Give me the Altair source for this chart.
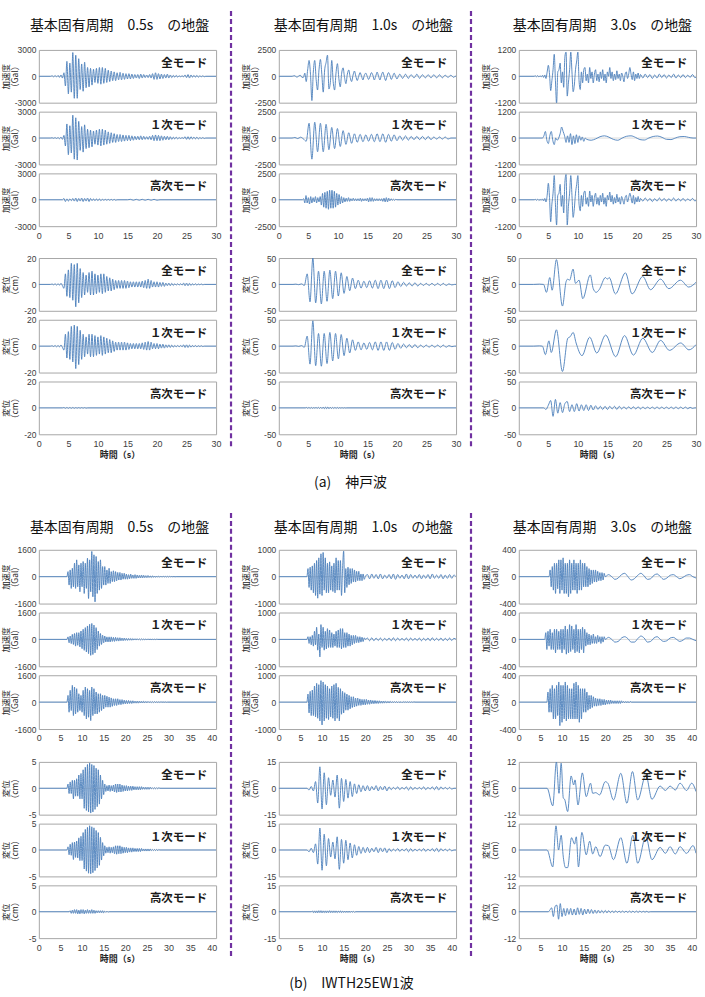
import altair as alt
import pandas as pd

# ---------------- labels / axes ----------------
COL_TITLES = ["基本固有周期　0.5s　の地盤", "基本固有周期　1.0s　の地盤", "基本固有周期　3.0s　の地盤"]
MODE_LABELS = ["全モード", "１次モード", "高次モード"]
ACC_TITLE = ["加速度", "（Gal）"]
DIS_TITLE = ["変位", "（cm）"]
TIME_TITLE = "時間（s）"
CAPTIONS = ["(a)　神戸波", "(b)　IWTH25EW1波"]
XT_A = [0, 5, 10, 15, 20, 25, 30]
XT_B = [0, 5, 10, 15, 20, 25, 30, 35, 40]
XMAX_A = 30
XMAX_B = 41
ACC_MAX_A = [3000, 2500, 1200]
DIS_MAX_A = [20, 50, 50]
ACC_MAX_B = [1600, 1000, 400]
DIS_MAX_B = [5, 15, 12]

# ---------------- (a) Kobe wave : segments (t0, dt, values) ----------------
KOBE_ACC05_ALL = [(2.0, 0.25, [0, 60, -60, 80, -70, 100, -120, 150, -200,
    400, -1100, 1700, -2000, 1500, -1800, 2700, -2500, 2400, -2500, 2000, -1500, 1400, -1700, 1600, -1300,
    1000, -1200, 900, -1000, 800, -700, 900, -800, 1000, -900, 1000, -800, 900, -700, 700, -600,
    600, -500, 500, -500, 400, -400, 450, -400, 350, -350, 300, -300, 300, -300, 250, -250,
    200, -200, 200, -250, 250, -200, 200, -150, 150, -150, 200, -200, 300, -350, 400, -350,
    300, -300, 250, -250, 200, -200, 250, -200, 150, -150, 100, -100, 100, -100, 50, -50,
    50, -50, 150, -150, 200, -200, 150, -100, 100, -100, 100, -100, 50, -50, 50, -50, 0])]
KOBE_ACC05_1ST = [(2.0, 0.25, [0, 30, -30, 50, -50, 60, -80, 100, -150,
    300, -900, 1600, -1900, 1400, -1700, 2600, -2400, 2300, -2500, 1900, -1400, 1300, -1600, 1500, -1200,
    1000, -1100, 900, -1000, 800, -700, 900, -800, 1000, -900, 1000, -800, 900, -700, 700, -600,
    600, -500, 500, -500, 400, -400, 400, -400, 350, -350, 300, -300, 300, -300, 250, -250,
    200, -200, 200, -200, 250, -200, 200, -150, 150, -150, 200, -200, 300, -300, 350, -300,
    300, -300, 250, -250, 200, -200, 200, -200, 150, -150, 100, -100, 100, -100, 50, -50,
    50, -50, 150, -150, 150, -150, 150, -100, 100, -100, 100, -100, 50, -50, 50, -50, 0])]
KOBE_ACC05_HI = [(4.0, 0.25, [0, 150, -200, 100, -150, 100, -100, 150, -150, 200, -200, 150, -150, 200, -200,
    150, -150, 200, -200, 150, -100, 100, -100, 100, -100, 100, -100, 50, -50, 50, -50, 50, -50, 50, -50, 50, -50, 0]),
    (15.0, 0.5, [0, 50, -50, 50, -50, 50, -50, 50, -50, 50, -50, 0])]
KOBE_DIS05_ALL = [(2.0, 0.25, [0, 0.3, -0.3, 0.5, -0.5, 0.5, -0.5, 0.8, -1,
    -3, 8, -9, 11, -10, 16, -12, 15, -17, 16, -14, 12, -10, 9, -8, 7,
    -6, 9, -8, 10, -8, 8, -7, 7, -6, 8, -7, 8, -6, 6, -5, 5,
    -5, 4, -4, 3, -3, 3, -3, 3, -3, 3, -3, 2.5, -2.5, 2, -2,
    2, -2, 2, -2, 2, -2, 2.5, -2.5, 3, -3, 4, -3, 3, -2, 2, -2,
    2, -2, 1.5, -1.5, 1.5, -1.5, 1, -1, 1, -1, 0.8, -0.8, 0.5, -0.5, 0.5, -0.5,
    0.5, -0.5, 1, -1, 1, -1, 0.8, -0.8, 0.5, -0.5, 0.5, -0.5, 0.3, -0.3, 0.3, -0.3, 0])]
KOBE_DIS05_1ST = [(2.0, 0.25, [0, 0.3, -0.3, 0.5, -0.5, 0.5, -0.5, 0.8, -1,
    -3, 9, -9, 11, -10, 15, -12, 16, -17, 15, -14, 12, -10, 9, -8, 7,
    -6, 9, -8, 9, -8, 8, -7, 7, -6, 8, -7, 7, -6, 6, -5, 5,
    -5, 4, -4, 3, -3, 3, -3, 3, -3, 3, -3, 2.5, -2.5, 2, -2,
    2, -2, 2, -2, 2, -2, 2.5, -2.5, 3, -3, 3.5, -3, 3, -2, 2, -2,
    2, -2, 1.5, -1.5, 1.5, -1.5, 1, -1, 1, -1, 0.8, -0.8, 0.5, -0.5, 0.5, -0.5,
    0.5, -0.5, 1, -1, 1, -1, 0.8, -0.8, 0.5, -0.5, 0.5, -0.5, 0.3, -0.3, 0.3, -0.3, 0])]
KOBE_DIS05_HI = [(4.0, 0.25, [0, 0.3, -0.3, 0.3, -0.3, 0.3, -0.3, 0.3, -0.3, 0.2, -0.2, 0.2, -0.2, 0.2, -0.2, 0.2, -0.2, 0])]

KOBE_ACC10_ALL = [(2.24, 0.24, [0, 40, 50, -60, -50, 60, 80, -100, -100, 300, -500, 600, 1500, 200, -2300, 400,
    1500, -300, -1300, 600, 1600, 200, -1500, 600, 1300, 2000, -1200, -600, 1500, -500, -1300, 300, 1200, -200,
    -1000, 300, 800, -100, -700, 200, 600, -100, -500, 100, 500, 0, -400,
    0, 350, 0, -350, 100, 300, 0, -300, 0, 350, 100, -350, 0, 400, 0, -350, 100, 400, 0, -400, 0, 350, 100, -300, 0, 300, 0, -250,
    0, 200, 0, -200, 0, 200, 0, -200, 0, 150, 0, -150, 0, 200, 0, -200, 0, 150, 0, -150, 0, 150, 0, -150, 0, 150, 0, -150,
    0, 150, 0, -150, 0, 100, 0, -100, 0, 100, 0, -100, 0])]
KOBE_ACC10_1ST = [(2.24, 0.48, [0, 50, -50, 80, -80, -300,
    1400, -2000, 1500, -1300, 1400, -1300, 1300, -1100, 1000, -1000, 900, -800, 700, -600, 500, -500, 400, -400,
    350, -350, 300, -300, 350, -350, 400, -350, 400, -400, 350, -300, 300, -250,
    200, -200, 200, -200, 150, -150, 150, -150, 150, -150, 150, -150, 100, -100, 100, -100, 100, -100, 0])]
KOBE_ACC10_HI = [(4.0, 0.2, [0, 100, -300, 400, -300, 200, -400, 300, -300, 200, -200,
    300, -300, 200, -200, 300, -500, 600, -700, 700, -800, 800, -900, 900, -800, 900,
    -800, 800, -700, 600, -500, 500, -400, 300, -300, 200,
    -200, 150, -150, 200, -150, 100, -100, 150, -100, 100, -100, 100, -100, 150, -150, 100, -100, 100, -100, 150,
    -200, 200, -150, 200, -150, 100, -100, 100, -100, 100,
    -100, 100, -150, 150, -200, 200, -200, 150, -100, 100, -50, 50, -50, 50, 0])]
KOBE_DIS10_ALL = [(2.4, 0.48, [0, 0.5, -0.5, 1, -2, 20, -33, 50, -35, 25, -37, 25, -32, 27, -27, 25, -22, 22,
    -17, 15, -12, 12, -8, 8, -7, 6, -6, 7, -7, 8, -8, 8, -8, 8, -8, 7, -6, 5, -4, 4, -3, 3, -3, 3, -3,
    2, -2, 2, -2, 2, -2, 2, -2, 2, -2, 1, -1, 0])]
KOBE_DIS10_1ST = [(2.4, 0.48, [0, 0.5, -0.5, 1, -2, 19, -34, 48, -37, 24, -38, 24, -33, 26, -28, 24, -24, 22,
    -18, 15, -13, 12, -8, 8, -7, 6, -6, 7, -7, 8, -8, 8, -8, 8, -8, 7, -6, 5, -4, 4, -3, 3, -3, 3, -3,
    2, -2, 2, -2, 2, -2, 2, -2, 2, -2, 1, -1, 0])]
KOBE_DIS10_HI = [(4.5, 0.2, [0, 0.8, -0.8, 1, -1, 0.8, -0.8, 0.5, -0.5, 0.8, -0.8, 1, -1, 1.2, -1.2, 1.5, -1.5,
    1.5, -1.5, 1.5, -1.5, 1.2, -1.2, 1, -1, 1, -1, 0.8, -0.8, 0.5, -0.5, 0.5, -0.5, 0.3, -0.3, 0])]

KOBE_ACC30_ALL = [(2.6, 0.2, [0, 20, -20, 30, -30, 20, -20, 40, -50, 60,
    -100, 200, 500, 100, -650, -200, 300, 1000, -200, -1250,
    200, 300, 600, -300, 200, -500, 900, 1100, -900, -300,
    300, 1100, 200, -700, -400, 300, 700, 1100, -200, -600,
    200, -300, 300, 400, -200, 100, -300, 400, -100, 200,
    -300, 100, 300, -200, 100, -250, 200, -100, 300, -200,
    100, -300, 200, 0, 400, -100, 200, -200, 100, -150,
    250, -100, 100, -200, 150, 0, -250, 100, 200, -100,
    100, 400, 100, -150, 200, -200, 100, -100, 150, -100]),
    (20.6, 0.4, [80, -80, 100, -60, 80, -100, 60, -80, 100, -60, 80, -80, 60, -60, 100, -80, 60, -60, 80, -60,
    50, -50, 80, -60, 0])]
KOBE_ACC30_1ST = [(4.0, 0.25, [0, 100, 300, -100, -250, 100, 300, -100, -300, 0, -100, 0, 200, 500, 300, 100,
    -200, 100, -200, 200, -300, 100, -250, 150, -200, 100, -100, 50, -150, 0]),
    (11.5, 0.75, [-60, -100, -40, 60, 100, 40, -60, -100, 0, 80, 100, 30, -70, -90, 0, 70, 90, 30,
    -60, -70, 0, 60, 70, 30, 0])]
KOBE_ACC30_HI = [(2.6, 0.2, [0, 20, -20, 30, -30, 20, -20, 40, -50, 60,
    -100, 200, 750, 100, -1000, -200, 300, 1100, -200, -1150,
    200, 300, 700, -300, 200, -600, 800, 1150, -1150, -300,
    300, 1100, 200, -800, -400, 300, 700, 1100, -200, -500,
    200, -300, 300, 400, -200, 100, -300, 400, -100, 200,
    -300, 100, 300, -200, 100, -250, 200, -100, 300, -200,
    100, -300, 200, 0, 350, -100, 200, -200, 100, -150,
    250, -100, 100, -200, 150, 0, -200, 100, 200, -100,
    100, 300, 100, -150, 200, -200, 100, -100, 150, -100]),
    (20.6, 0.4, [60, -60, 80, -50, 60, -80, 50, -60, 80, -50, 60, -60, 50, -50, 80, -60, 50, -50, 60, -50,
    40, -40, 60, -50, 0])]
KOBE_DIS30_ALL = {"t": [0, 2.5, 3.5, 4.2, 4.68, 5.25, 5.64, 6.37, 7.39, 8.0, 8.29, 8.6, 9.19, 9.6, 10.2, 10.83,
                        12.1, 12.6, 13.1, 13.6, 14.67, 15.0, 15.3, 16.36, 18.05, 19.18, 20.98, 22.3, 24.0, 25.4,
                        27.36, 28.76, 30],
                  "v": [0, 0, 0.5, 0, -15, 13, -11, 47, -41, 5, 10, 8, 29, 2, 8, -27, 18, -8, -15, -10, 13, 10, 13,
                        -18, 22, -18, 15, -10, 10, -8, 8, -5, 4]}
KOBE_DIS30_1ST = {"t": [0, 2.5, 3.5, 4.0, 4.5, 5.1, 5.5, 6.37, 7.39, 8.3, 8.7, 9.2, 9.7, 10.7, 12.0, 13.2, 14.7,
                        16.4, 17.9, 19.4, 21.0, 22.6, 24.0, 25.5, 27.4, 28.8, 30],
                  "v": [0, 0, 0.5, 0, -16, 10, -12, 31, -48, 15, 18, 26, 6, -18, 17, -13, 21, -20, 20, -17, 15,
                        -12, 11, -8, 6, -7, 3]}
KOBE_DIS30_HI = [(4.2, 0.4, [0, -3, 5, 14, -16, 16, -10, 10, -9, 8, 12, -7, 6, -7, 8, -6, 6, -5, 6, -5, 5, -4, 4,
    -3, 3, -3, 3, -3, 3, -2, 3, -3, 3, -2, 2, -2, 2, -2, 2, -2, 2, -2, 1.5, -1.5, 1.5, -1.5, 1.5, -1.5,
    1.5, -1.5, 1.5, -1.5, 1.5, -1.5, 1.5, -1.5, 1.5, -1.5, 1.5, -1.5, 1.5, -1.5, 1, -1, 0])]

# ---------------- (b) IWTH25EW1 wave ----------------
IWTH_ACC05_ALL = [(6.5, 0.25, [0, 300, -500, 400, -700, 500,
    -600, 800, -700, 1000, -600, 700, -900, 800,
    -600, 900, -1000, 800, -700, 1100, -1300, 1000,
    -900, 1500, -1200, 1300, -1500, 1200, -1000, 900,
    -800, 1000, -700, 600, -500, 600, -500, 400,
    -400, 500, -400, 300, -300, 350, -300, 300,
    -250, 250, -200, 250, -200, 200, -150, 200,
    -150, 150, -150, 120, -120, 150, -100, 100, -100, 120, -100, 100, -80, 80, -80, 100,
    -80, 80, -60, 60, -60, 70, -50, 50, -50, 50, -40, 40, -40, 40, -30, 30,
    -30, 30, -30, 30, -20, 20, -20, 20, -20, 20, -10, 10, -10, 10, -10, 0])]
IWTH_ACC05_1ST = [(6.5, 0.25, [0, 150, -200, 200, -250, 300,
    -300, 350, -400, 400, -350, 400, -450, 500,
    -550, 600, -650, 700, -750, 800, -850, 900,
    -950, 950, -900, 850, -800, 700, -600, 500,
    -400, 350, -300, 250, -200, 200, -150, 150,
    -150, 150, -150, 150, -120, 120, -120, 120, -100, 100, -100, 100, -80, 80, -80, 80,
    -60, 60, -60, 60, -50, 50, -50, 50, -40, 40, -40, 40, -30, 30, -30, 30,
    -20, 20, -20, 20, -20, 20, -10, 10, -10, 10, -10, 10, -10, 10, 0])]
IWTH_ACC05_HI = [(6.5, 0.25, [0, 400, -600, 700, -500, 1000,
    -800, 900, -700, 800, -600, 500, -500, 400,
    -600, 700, -800, 900, -1000, 800, -900, 700,
    -1100, 900, -800, 800, -700, 600, -700, 500,
    -600, 500, -500, 400, -400, 400, -300, 350,
    -300, 300, -300, 250, -250, 200, -200, 200,
    -200, 200, -150, 150, -150, 150, -120, 120, -100, 100, -100, 100, -80, 80, -80, 80,
    -60, 60, -60, 60, -60, 60, -50, 50, -50, 50, -40, 40, -40, 40, -30, 30,
    -30, 30, -30, 30, -20, 20, -20, 20, -20, 20, -10, 10, -10, 10, -10, 0])]
IWTH_ACC10_ALL = [(6.5, 0.25, [0, 300, -400, 350, -500, 400,
    -600, 500, -700, 600, -800, 700, -650, 850,
    -700, 900, -500, 700, -600, 500, -600, 550,
    -500, 400, -550, 500, -600, 700, -500, 600,
    -500, 600, -700, 300, 950, -600, 300, -400,
    350, -300, 300, -250, 300, -200, 250, -200,
    200, -150, 200, -150, 100, -150, 100, -100, 0]),
    (20.5, 0.5, [80, -80, 100, -60, 80, -80, 100, -80, 60, -60, 80, -80, 100, -100, 80, -60, 60, -80, 100, -80,
    80, -60, 60, -60, 80, -80, 60, -60, 80, -80, 100, -60, 60, -60, 80, -80, 60, -60, 80, -60, 60, 0])]
IWTH_ACC10_1ST = [(6.5, 0.25, [0, 100, -150, 100, -200, 150,
    -250, 300, -200, 450, -400, 200, -650, 550,
    -300, 450, -400, 300, -350, 400, -300, 350,
    -300, 250, -300, 200, -250, 300, -300, 350,
    -300, 400, -350, 400, -300, 250, -300, 250,
    -250, 200, -250, 150, -200, 150, -150, 150,
    -120, 100, -120, 100, -100, 80, -80, 60, 0]),
    (20.5, 0.5, [50, -50, 60, -50, 50, -40, 50, -50, 40, -40, 50, -50, 60, -50, 50, -40, 40, -40, 50, -50,
    50, -40, 40, -40, 50, -50, 40, -40, 50, -50, 60, -40, 40, -40, 50, -50, 40, -40, 50, -40, 40, 0])]
IWTH_ACC10_HI = [(6.5, 0.25, [0, 300, -400, 400, -500, 450,
    -500, 600, -550, 700, -600, 650, -700, 800,
    -850, 750, -700, 650, -600, 600, -650, 500,
    -550, 600, -600, 650, -700, 700, -600, 550,
    -700, 500, -450, 400, -400, 350, -300, 300,
    -300, 250, -250, 200, -200, 200, -180, 150,
    -150, 150, -120, 120, -120, 100, -100, 100,
    -100, 100, -80, 80, -80, 80, -60, 60, -60, 60, -50, 50, -50, 50, -40, 40,
    -40, 40, -30, 30, -30, 30, -30, 30, -20, 20, -20, 20, -20, 20, -20, 20,
    -20, 20, -20, 20, -10, 10, -10, 10, -10, 10, -10, 10, -10, 10, 0])]
IWTH_ACC30_ALL = [(7.0, 0.25, [0, 100, -150, 150,
    -200, 200, -250, 200, -180, 250, -250, 250,
    -200, 280, -250, 200, -250, 200, -300, 250,
    -250, 200, -200, 250, -200, 200, -250, 200,
    -200, 250, -200, 200, -150, 200, -150, 150,
    -150, 120, -120, 100, -100, 100, -80, 100,
    -80, 80, -60, 60, -60, 60, -50, 50, 0]),
    (20.75, 0.75, [30, 0, -40, -20, 30, 50, 0, -50, -30, 20, 50, 10, -40, -30, 20, 40, 0, -40, -20, 20, 30, 0,
    -30, -10, 20, 30, 0, -20])]
IWTH_ACC30_1ST = [(6.0, 0.25, [0, 100, -150, 120, -100, 150, -150, 100,
    -150, 150, -200, 150, -150, 120, -150, 150,
    -200, 150, -150, 200, -220, 150, -200, 220,
    -180, 200, -150, 150, -200, 220, -180, 150,
    -200, 150, -150, 180, -200, 150, -100, 100,
    -80, 80, -80, 60, -60, 80, -60, 40,
    -60, 60, -40, 40, -60, 40, -40, 40, 0]),
    (20.75, 0.75, [30, 0, -40, -30, 20, 40, 10, -40, -40, 10, 50, 20, -40, -30, 20, 40, 0, -30, -20, 20, 30, 0,
    -30, -10, 20, 20, 0, -20])]
IWTH_ACC30_HI = [(6.5, 0.25, [0, 150, -150, 200, -150, 250,
    -250, 200, -250, 250, -200, 300, -350, 250,
    -300, 250, -250, 300, -280, 250, -250, 200,
    -250, 200, -250, 280, -250, 300, -250, 250,
    -300, 200, -250, 200, -150, 200, -150, 150,
    -120, 100, -100, 100, -80, 80, -60, 60,
    -60, 50, -50, 50, -50, 40, -40, 40, -40, 30, -30, 30, -30, 30, -20, 20,
    -20, 20, -20, 20, -20, 20, -20, 20, -10, 10, -10, 10, -10, 10, -10, 10, 0])]
IWTH_DIS05_ALL = [(6.5, 0.25, [0, 0.8, -1, 1.2, -1, 1.5,
    -2, 1.5, -1.5, 1.8, -1.5, 2.5, -2, 2.8,
    -2, 3.5, -3.8, 4, -4.2, 4.5, -4.5, 4.8,
    -4.7, 4.5, -4.5, 4.3, -4, 3.8, -3.5, 3.5,
    -3, 2.5, -2, 1.5, -1.2, 0.8, -0.6, 0.5,
    -0.5, 0.6, -0.6, 0.5, -0.5, 0.6, -0.7, 0.8,
    -0.8, 0.8, -0.7, 0.8, -0.7, 0.6, -0.6, 0.5,
    -0.5, 0.5, -0.5, 0.4, -0.4, 0.4, -0.4, 0.4, -0.3, 0.3, -0.3, 0.3, -0.3, 0.3, -0.3, 0.3,
    -0.2, 0.2, -0.2, 0.2, -0.2, 0.2, -0.2, 0.2, -0.1, 0.1, -0.1, 0.1, -0.1, 0.1, -0.1, 0.1, 0])]
IWTH_DIS05_1ST = [(6.5, 0.25, [0, 0.6, -0.9, 1.1, -1, 1.4,
    -1.8, 1.5, -1.4, 1.7, -1.5, 2.3, -2, 2.6,
    -2, 3.3, -3.6, 3.9, -4, 4.3, -4.4, 4.6,
    -4.5, 4.4, -4.3, 4.2, -3.9, 3.7, -3.4, 3.3,
    -2.9, 2.4, -1.9, 1.4, -1.1, 0.8, -0.6, 0.5,
    -0.5, 0.6, -0.6, 0.5, -0.5, 0.6, -0.7, 0.8,
    -0.8, 0.8, -0.7, 0.8, -0.7, 0.6, -0.6, 0.5,
    -0.5, 0.5, -0.5, 0.4, -0.4, 0.4, -0.4, 0.4, -0.3, 0.3, -0.3, 0.3, -0.3, 0.3, -0.3, 0.3,
    -0.2, 0.2, -0.2, 0.2, -0.2, 0.2, -0.2, 0.2, -0.1, 0.1, -0.1, 0.1, -0.1, 0.1, -0.1, 0.1, 0])]
IWTH_DIS05_HI = [(7.0, 0.25, [0, 0.2, -0.3, 0.3, -0.3, 0.4, -0.3, 0.4, -0.4, 0.3, -0.4, 0.4, -0.3, 0.4, -0.4, 0.3,
    -0.3, 0.4, -0.3, 0.3, -0.3, 0.4, -0.3, 0.3, -0.3, 0.2, -0.2, 0.2, -0.2, 0.2, -0.2, 0.2, -0.2, 0.1, -0.1,
    0.1, -0.1, 0])]
IWTH_DIS10_ALL = [(6.5, 0.5, [0, -1, 1, -1.5, 3.8, -8.4, 12.2, -11.8, 8.8, -9.4, 6, -4, 4.7, -5, 7.5, -11.3, 5.6,
    -7.5, 5, -5.6, 3.8, -4.7, 2.5, -3, 2, -2, 1.5, -1.5,
    1.5, -1.5, 1, -1, 1.5, -1.5, 1, -1, 1.2, -1.5,
    0.8, -0.8, 0.5, -0.5, 0.8, -0.8, 0.5, -0.5, 0.8, -1, 0.8, -0.8, 0.5, -0.5, 0.5, -0.5, 0.8, -0.8, 0.5, -0.5,
    0.8, -0.8, 1, -1, 0.8, -0.5, 0.5, -0.5, 0.5, -0.5, 0])]
IWTH_DIS10_1ST = [(6.5, 0.5, [0, -1, 1, -1.5, 3.5, -8, 12.5, -11.5, 9, -9, 6.5, -4, 4.5, -5, 7.5, -11, 6,
    -7.5, 5.5, -5.5, 4, -4.5, 3, -3, 2, -2, 1.5, -1.5,
    1.5, -1.5, 1, -1, 1.5, -1.5, 1.2, -1, 1.2, -1.5,
    0.8, -0.8, 0.5, -0.5, 0.8, -0.8, 0.5, -0.5, 0.8, -1, 0.8, -0.8, 0.5, -0.5, 0.5, -0.5, 0.8, -0.8, 0.5, -0.5,
    0.8, -0.8, 1, -1, 0.8, -0.5, 0.5, -0.5, 0.5, -0.5, 0])]
IWTH_DIS10_HI = [(7.5, 0.25, [0, 0.4, -0.5, 0.5, -0.6, 0.5, -0.6, 0.6, -0.5, 0.6, -0.6, 0.5, -0.5, 0.5, -0.6, 0.5,
    -0.5, 0.6, -0.5, 0.5, -0.5, 0.5, -0.5, 0.5, -0.5, 0.4, -0.4, 0.5, -0.5, 0.4, -0.4, 0.4, -0.4, 0.4, -0.4,
    0.4, -0.4, 0.3, -0.3, 0.3, -0.3, 0])]
IWTH_DIS30_ALL = {"t": [0, 6.55, 7.86, 8.7, 9.3, 9.8, 10.3, 10.6, 11.3, 12.1, 12.7, 13.0, 13.7, 14.7, 15.6, 16.6,
                        17.1, 17.8, 18.7, 20.0, 20.6, 21.9, 23.6, 25.0, 26.3, 27.5, 29.4, 30.8, 32.7, 33.9, 35.0,
                        36.2, 37.3, 38.8, 40.0, 41],
                  "v": [0, 0, -8, 12, -2.3, 11.4, -4.5, -5, -10.6, 5.6, 1.5, 3.8, -7.6, 7, -3.8, 2.3, -2.3, -2.0,
                        -3, 3, 2.3, -5.3, 6.8, -6.8, 7.6, -5.3, 6, -5, 1, -1, 1, -0.8, 2.3, -1, 2.3, -1.5]}
IWTH_DIS30_1ST = {"t": [0, 6.55, 7.86, 8.6, 9.2, 9.8, 10.3, 10.8, 11.3, 12.2, 12.9, 13.3, 13.8, 14.6, 15.6, 16.4,
                        17.1, 17.8, 18.8, 20.0, 20.7, 21.9, 23.6, 25.0, 26.4, 27.5, 29.4, 30.8, 32.7, 33.9, 35.0,
                        36.2, 37.3, 38.8, 40.3, 41],
                  "v": [0, 0, -7.7, 11, 0, 6.7, -3.3, -8, -8, 5.6, 2.7, 6, -7.7, 8, -2.2, 4, -1.8, 1.5, -3, 2.2,
                        2, -4.4, 5.6, -6, 6.7, -6, 6.2, -4.4, 1.2, -1.5, 1.5, -1.8, 1.5, -1.5, 2, -1.5]}
IWTH_DIS30_HI = [(6.8, 0.4, [0, 0.8, 1.8, -2.2, 2.5, 3, -3.4, 3.7, -2.2, 1.5, -1.8, 1.5, -1.2, 1.5, -1.5, 1.2,
    -1.5, 1.8, -1.2, 1.5, -1.5, 1.2, -1.0, 1.2, -0.8, 1.0, -0.8, 0.8, -0.7, 0.7, -0.6, 0.6, -0.5, 0.6, -0.5,
    0.5, -0.4, 0.4, -0.4, 0.4, -0.3, 0.3, -0.3, 0.3, -0.3, 0.3, -0.3, 0.3, -0.3, 0.3, -0.3, 0.3, -0.3, 0.3,
    -0.2, 0.2, -0.2, 0.2, -0.2, 0])]

KOBE_ACC = [[KOBE_ACC05_ALL, KOBE_ACC05_1ST, KOBE_ACC05_HI],
            [KOBE_ACC10_ALL, KOBE_ACC10_1ST, KOBE_ACC10_HI],
            [KOBE_ACC30_ALL, KOBE_ACC30_1ST, KOBE_ACC30_HI]]
KOBE_DIS = [[KOBE_DIS05_ALL, KOBE_DIS05_1ST, KOBE_DIS05_HI],
            [KOBE_DIS10_ALL, KOBE_DIS10_1ST, KOBE_DIS10_HI],
            [KOBE_DIS30_ALL, KOBE_DIS30_1ST, KOBE_DIS30_HI]]
IWTH_ACC = [[IWTH_ACC05_ALL, IWTH_ACC05_1ST, IWTH_ACC05_HI],
            [IWTH_ACC10_ALL, IWTH_ACC10_1ST, IWTH_ACC10_HI],
            [IWTH_ACC30_ALL, IWTH_ACC30_1ST, IWTH_ACC30_HI]]
IWTH_DIS = [[IWTH_DIS05_ALL, IWTH_DIS05_1ST, IWTH_DIS05_HI],
            [IWTH_DIS10_ALL, IWTH_DIS10_1ST, IWTH_DIS10_HI],
            [IWTH_DIS30_ALL, IWTH_DIS30_1ST, IWTH_DIS30_HI]]

# ---------------- style ----------------
LINE = "#4A7EBB"
FRAME = "#A6A6A6"
ZERO = "#D0D0D0"
PURPLE = "#7030A0"
JP = "Noto Sans CJK JP"
NUMF = "'Liberation Sans Narrow', 'Liberation Sans', sans-serif"
W = 178
ONE = pd.DataFrame({"k": [0]})


def series(data, xmax):
    if isinstance(data, dict):
        ts, vs = list(data["t"]), list(data["v"])
    else:
        ts, vs = [], []
        for t0, dt, vals in data:
            ts += [round(t0 + i * dt, 4) for i in range(len(vals))]
            vs += list(vals)
    if ts[0] > 0:
        ts = [0.0] + ts
        vs = [0] + vs
    if ts[-1] < xmax and vs[-1] == 0:
        ts.append(xmax)
        vs.append(0)
    return pd.DataFrame({"t": ts, "v": vs})


def x_axis(ticks, title=None):
    kw = dict(values=ticks, labelFont=NUMF, labelFontSize=9, labelColor="#404040", labelPadding=5,
              ticks=False, domain=False, grid=False, labelFlush=False)
    if title:
        return alt.Axis(title=title, titleFont=JP, titleFontSize=9, titleFontWeight="bold",
                        titleColor="#262626", titlePadding=2, titleX=W / 2 - 8, **kw)
    return alt.Axis(title=None, **kw)


def panel(data, xmax, ymax, label, ytitle, xaxis, h, extras=()):
    df = series(data, xmax)
    xs = alt.Scale(domain=[0, xmax], nice=False, zero=False)
    ys = alt.Scale(domain=[-ymax, ymax], nice=False, zero=False)
    yax = alt.Axis(values=[-ymax, 0, ymax], labelExpr="'' + datum.value", labelFont=NUMF, labelFontSize=8.5,
                   labelColor="#404040", labelPadding=3, ticks=False, domain=False, grid=False,
                   minExtent=14, maxExtent=14, title=ytitle, titleFont=JP, titleFontSize=8.5,
                   titleFontWeight="normal", titleColor="#262626", titlePadding=5, titleLineHeight=9)
    zero = alt.Chart(ONE).transform_calculate(z="0").mark_rule(color=ZERO, strokeWidth=0.8).encode(
        y=alt.Y("z:Q", scale=ys, axis=yax))
    line = alt.Chart(df).mark_line(color=LINE, strokeWidth=0.9, interpolate="monotone", clip=True).encode(
        x=alt.X("t:Q", scale=xs, axis=xaxis), y=alt.Y("v:Q", scale=ys, axis=yax))
    lab = alt.Chart(ONE).mark_text(align="right", baseline="middle", font=JP, fontSize=11.5,
                                   fontWeight="bold", color="#1a1a1a").encode(
        x=alt.value(W - 9), y=alt.value(14), text=alt.value(label))
    return alt.layer(zero, line, lab, *extras).properties(width=W, height=h)


def spacer(h):
    return alt.Chart(ONE).mark_text(text="").encode(x=alt.value(0), y=alt.value(0)).properties(
        width=W, height=h, view=alt.ViewBackground(stroke=None, fill=None))


def text_layer(txt, x, y, size, weight="normal"):
    return alt.Chart(ONE).mark_text(align="center", baseline="middle", font=JP, fontSize=size,
                                    fontWeight=weight, color="#111111").encode(
        x=alt.value(x), y=alt.value(y), text=alt.value(txt))


def dash_layer(y1, y2):
    return alt.Chart(ONE).mark_rule(color=PURPLE, strokeWidth=2.2, strokeDash=[5, 3]).encode(
        x=alt.value(-48), y=alt.value(y1), y2=alt.value(y2))


def section_rows(acc, dis, acc_max, dis_max, xmax, xticks, caption, acc_h, gap_h, title_y, dash):
    rows = []
    title_x = [81, 85, 84]
    for r in range(3):
        row = []
        for c in range(3):
            extras = []
            if r == 0:
                extras.append(text_layer(COL_TITLES[c], title_x[c], title_y, 14))
                if c > 0:
                    extras.append(dash_layer(dash[0], dash[1]))
            xa = x_axis(xticks) if r == 2 else None
            row.append(panel(acc[c][r], xmax, acc_max[c], MODE_LABELS[r], ACC_TITLE, xa, acc_h, extras))
        rows.append(row)
    rows.append([spacer(gap_h) for _ in range(3)])
    for r in range(3):
        row = []
        for c in range(3):
            extras = []
            if r == 2 and c == 1:
                extras.append(text_layer(caption[0], caption[1], caption[2], 14))
            xa = x_axis(xticks, TIME_TITLE) if r == 2 else None
            row.append(panel(dis[c][r], xmax, dis_max[c], MODE_LABELS[r], DIS_TITLE, xa, 53, extras))
        rows.append(row)
    return rows


rows_a = section_rows(KOBE_ACC, KOBE_DIS, ACC_MAX_A, DIS_MAX_A, XMAX_A, XT_A, (CAPTIONS[0], 72, 102),
                      53, 14, -24, (-39, 401))
rows_b = section_rows(IWTH_ACC, IWTH_DIS, ACC_MAX_B, DIS_MAX_B, XMAX_B, XT_B, (CAPTIONS[1], 73, 99),
                      54, 15, -22, (-37, 411))
cells = []
for row in rows_a + [[spacer(98) for _ in range(3)]] + rows_b:
    cells += row

chart = alt.concat(*cells, columns=3, spacing={"row": 9, "column": 63}, bounds="flush").properties(
    background="white", padding={"left": 1, "top": 7, "right": 3, "bottom": 4}
).configure_view(stroke=FRAME, strokeWidth=1)

chart.save("out.html", embed_options={"renderer": "svg", "actions": False})
